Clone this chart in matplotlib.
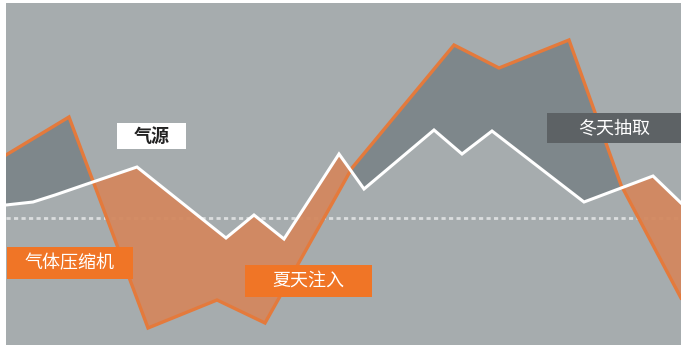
import numpy as np
import matplotlib.pyplot as plt
from matplotlib.patches import Rectangle

plt.rcParams['font.family'] = ['Noto Sans CJK SC', 'DejaVu Sans']

# storage level (orange) and supply (white)
storage_x = [0, 63, 142, 211, 259, 346, 448, 493, 563, 615, 675]
storage_y = [190, 228, 17, 45, 22, 177, 300, 277, 305, 160, 47]
supply_x = [0, 27, 49, 81, 131, 220, 248, 278, 333, 358, 428, 456, 486, 578, 647, 675]
supply_y = [140, 143, 150, 161, 178, 107, 130, 106, 191, 156, 215, 191, 214, 143, 169, 142]
baseline = 127

labels = ['气源', '气体压缩机', '夏天注入', '冬天抽取']

bg = '#a6acae'
orange = '#e47a3c'
orange_fill = '#d3885f'
dark_fill = '#7c858a'

fig = plt.figure(figsize=(6.81, 3.48), dpi=100)
ax = fig.add_axes([6/681, 3/348, 675/681, 342/348])
ax.set_xlim(0, 675)
ax.set_ylim(0, 342)
ax.axis('off')
ax.add_patch(Rectangle((0, 0), 675, 342, color=bg, zorder=0))

# dotted reference line
ax.axhline(baseline, color='white', lw=2, ls=(0, (1.5, 1.2)), alpha=0.6, zorder=1)

# common grid so the two lines can be compared
xs = np.union1d(storage_x, supply_x)
s = np.interp(xs, storage_x, storage_y)
w = np.interp(xs, supply_x, supply_y)
ax.fill_between(xs, s, w, where=s >= w, interpolate=True, color=dark_fill, lw=0, alpha=0.95, zorder=2)
ax.fill_between(xs, s, w, where=s <= w, interpolate=True, color=orange_fill, lw=0, alpha=0.95, zorder=2)

ax.plot(storage_x, storage_y, color=orange, lw=2.4, solid_joinstyle='miter', zorder=3)
ax.plot(supply_x, supply_y, color='white', lw=2.2, solid_joinstyle='miter', zorder=4)

# label boxes: (x0, y0, w, h), face, text colour, weight
boxes = [
    ((111, 196, 69, 26), 'white', '#222222', 'bold'),
    ((1, 66, 126, 32), '#f07526', 'white', 'medium'),
    ((239, 48, 127, 32), '#f07526', 'white', 'medium'),
    ((541, 202, 134, 30), '#5d6265', 'white', 'medium'),
]
for lab, (rect, fc, tc, wt) in zip(labels, boxes):
    x0, y0, bw, bh = rect
    ax.add_patch(Rectangle((x0, y0), bw, bh, color=fc, lw=0, zorder=5))
    ax.text(x0 + bw / 2, y0 + bh / 2, lab, color=tc, fontsize=13, fontweight=wt,
            ha='center', va='center', zorder=6)

fig.savefig('out.png', dpi=100, facecolor='white')
